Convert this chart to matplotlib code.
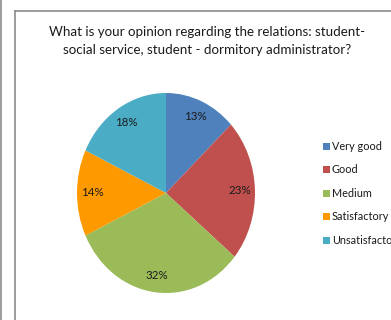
import matplotlib
matplotlib.use("Agg")
import matplotlib.pyplot as plt
from matplotlib.lines import Line2D
from matplotlib.patches import Rectangle

plt.rcParams["font.family"] = ["Lato", "DejaVu Sans"]

W, H = 391, 320

title = "What is your opinion regarding the relations: student-\nsocial service, student - dormitory administrator?"
categories = ["Very good", "Good", "Medium", "Satisfactory", "Unsatisfactory"]
shares = [13, 23, 32, 14, 18]
colors = ["#4F81BD", "#C0504D", "#9BBB59", "#FF9900", "#4BACC6"]


def fx(px):
    return px / W


def fy(py):
    return 1 - py / H


fig = plt.figure(figsize=(W / 100, H / 100), dpi=100)
fig.patch.set_facecolor("white")

# 外框线 (截图里残留的边框)
frame = "#8c8c8c"
fig.add_artist(Line2D([fx(0.8), fx(0.8)], [0, 1], color=frame, lw=1.2))
fig.add_artist(Line2D([fx(14.5), fx(14.5)], [0, fy(10.5)], color=frame, lw=1.2))
fig.add_artist(Line2D([fx(14.5), 1], [fy(10.5), fy(10.5)], color=frame, lw=1.2))

fig.text(fx(207), fy(41), title, ha="center", va="center", fontsize=9.6,
         color="#1a1a1a", linespacing=1.55)

# 椭圆饼图
ax = fig.add_axes([fx(77), fy(293), fx(255) - fx(77), (293 - 93) / H])
ax.pie(shares, colors=colors, startangle=90, counterclock=False, radius=1,
       autopct="%d%%", pctdistance=0.83,
       textprops={"fontsize": 8.3, "color": "#1a1a1a"})
ax.set_aspect("auto")
ax.set_xlim(-1, 1)
ax.set_ylim(-1, 1)
ax.axis("off")

# 图例
y0, dy = 146, 23.6
for i, (c, col) in enumerate(zip(categories, colors)):
    y = y0 + i * dy
    fig.add_artist(Rectangle((fx(323), fy(y + 3.5)), fx(7), 7 / H, facecolor=col,
                             edgecolor="none", transform=fig.transFigure))
    fig.text(fx(332), fy(y), c, ha="left", va="center", fontsize=7.8, color="#1a1a1a")

plt.savefig("out.png", dpi=100)
plt.close()
